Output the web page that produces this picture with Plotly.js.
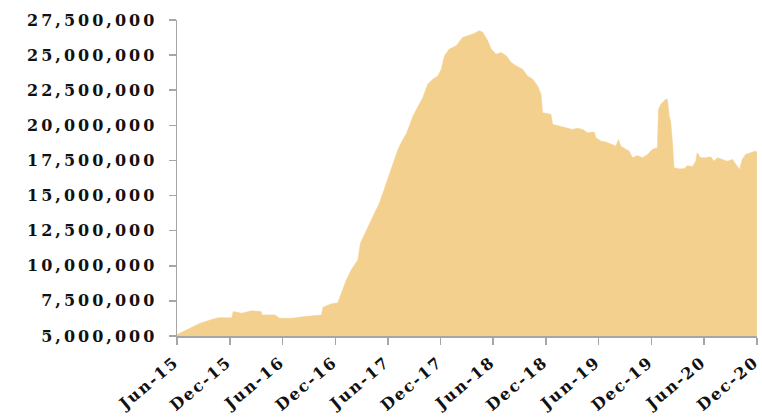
<!DOCTYPE html>
<html>
<head>
<meta charset="utf-8">
<script src="https://cdn.plot.ly/plotly-3.0.1.min.js"></script>
<style>
html,body{margin:0;padding:0;background:#fff;}
#chart{width:762px;height:419px;}
.ytick text{letter-spacing:3px;}
.xtick text{letter-spacing:2px;}
</style>
</head>
<body>
<div id="chart"></div>
<script>
const dates = [
'2015-06-01','2015-07-09','2015-08-20','2015-09-16','2015-10-21','2015-12-01','2015-12-08','2015-12-13',
'2016-01-11','2016-02-14','2016-03-18','2016-03-22','2016-05-05','2016-05-22','2016-07-02','2016-08-17',
'2016-10-14','2016-10-19','2016-11-17','2016-12-09','2016-12-22','2017-01-08','2017-01-25','2017-02-17',
'2017-02-26','2017-03-24','2017-04-10','2017-05-03','2017-05-26','2017-06-13','2017-07-06','2017-07-23',
'2017-08-04','2017-08-27','2017-09-19','2017-09-30','2017-10-17','2017-11-04','2017-11-21','2017-12-03',
'2017-12-14','2017-12-31','2018-01-24','2018-02-15','2018-03-05','2018-03-22','2018-04-14','2018-04-26',
'2018-05-13','2018-05-25','2018-06-11','2018-06-28','2018-07-16','2018-08-02','2018-08-19','2018-09-11',
'2018-09-28','2018-10-16','2018-11-02','2018-11-14','2018-11-19','2018-12-18','2018-12-24','2019-01-16',
'2019-02-08','2019-03-03','2019-03-20','2019-04-07','2019-04-24','2019-05-17','2019-05-23','2019-06-09',
'2019-06-27','2019-07-14','2019-07-31','2019-08-09','2019-08-17','2019-09-04','2019-09-15','2019-09-27',
'2019-10-14','2019-10-31','2019-11-18','2019-12-05','2019-12-22','2019-12-26','2020-01-03','2020-01-20',
'2020-01-26','2020-02-01','2020-02-06','2020-02-12','2020-02-18','2020-03-06','2020-03-23','2020-04-04',
'2020-04-21','2020-05-03','2020-05-08','2020-05-20','2020-06-06','2020-06-24','2020-07-05','2020-07-17',
'2020-08-03','2020-08-20','2020-09-07','2020-09-24','2020-10-02','2020-10-11','2020-10-23','2020-11-09',
'2020-11-26','2020-12-01'
];
const values = [
5.10,5.48,5.90,6.09,6.30,6.30,6.30,6.74,
6.62,6.79,6.74,6.50,6.50,6.26,6.26,6.38,
6.50,7.05,7.29,7.35,8.05,9.00,9.71,10.43,
11.62,12.80,13.50,14.48,15.90,16.86,18.29,19.00,
19.40,20.67,21.62,21.98,22.93,23.29,23.52,24.00,
24.95,25.43,25.67,26.26,26.38,26.50,26.74,26.62,
26.02,25.43,25.07,25.19,24.95,24.48,24.24,24.00,
23.52,23.29,22.80,22.20,20.90,20.79,20.07,19.95,
19.88,19.71,19.79,19.71,19.48,19.52,19.12,18.88,
18.81,18.64,18.52,19.00,18.52,18.29,18.17,17.69,
17.86,17.69,17.93,18.29,18.40,21.14,21.50,21.86,
21.86,20.67,20.31,18.88,16.98,16.90,16.90,17.14,
17.05,17.45,18.05,17.69,17.69,17.76,17.45,17.69,
17.57,17.45,17.57,17.10,16.86,17.57,17.93,18.05,
18.17,18.10
].map(v => v * 1e6);
const tickDates = ['2015-06-01','2015-12-01','2016-06-01','2016-12-01','2017-06-01','2017-12-01',
  '2018-06-01','2018-12-01','2019-06-01','2019-12-01','2020-06-01','2020-12-01'];
const tickLabels = ['Jun-15','Dec-15','Jun-16','Dec-16','Jun-17','Dec-17',
  'Jun-18','Dec-18','Jun-19','Dec-19','Jun-20','Dec-20'];

const font = {family:'"DejaVu Serif", serif', size:16, color:'#111', weight:700};

Plotly.newPlot('chart', [{
  x: dates, y: values, type:'scatter', mode:'lines',
  fill:'tozeroy', fillcolor:'#F3D08D',
  line:{color:'#F3D08D', width:0.5, shape:'linear'},
  hoverinfo:'skip'
}], {
  width:762, height:419,
  margin:{l:177, r:5, t:20, b:83},
  paper_bgcolor:'#fff', plot_bgcolor:'#fff',
  showlegend:false,
  xaxis:{
    type:'date', range:['2015-06-01','2020-12-01 08:00'],
    tickmode:'array', tickvals:tickDates, ticktext:tickLabels,
    tickangle:-40, tickfont:font, ticklabeloverflow:'allow',
    showgrid:false, zeroline:false,
    showline:true, linecolor:'#A6A6A6', linewidth:1.5,
    ticks:'outside', ticklen:7, tickcolor:'#A6A6A6', tickwidth:1.5,
    ticklabelstandoff:2, ticklabelshift:-2
  },
  yaxis:{
    range:[5000000, 27500000], tick0:5000000, dtick:2500000,
    tickformat:',d', tickfont:font,
    showgrid:false, zeroline:false,
    showline:true, linecolor:'#A6A6A6', linewidth:1.5,
    ticks:'outside', ticklen:7, tickcolor:'#A6A6A6', tickwidth:1.5,
    ticklabelstandoff:8
  }
}, {staticPlot:true, displayModeBar:false});
</script>
</body>
</html>
